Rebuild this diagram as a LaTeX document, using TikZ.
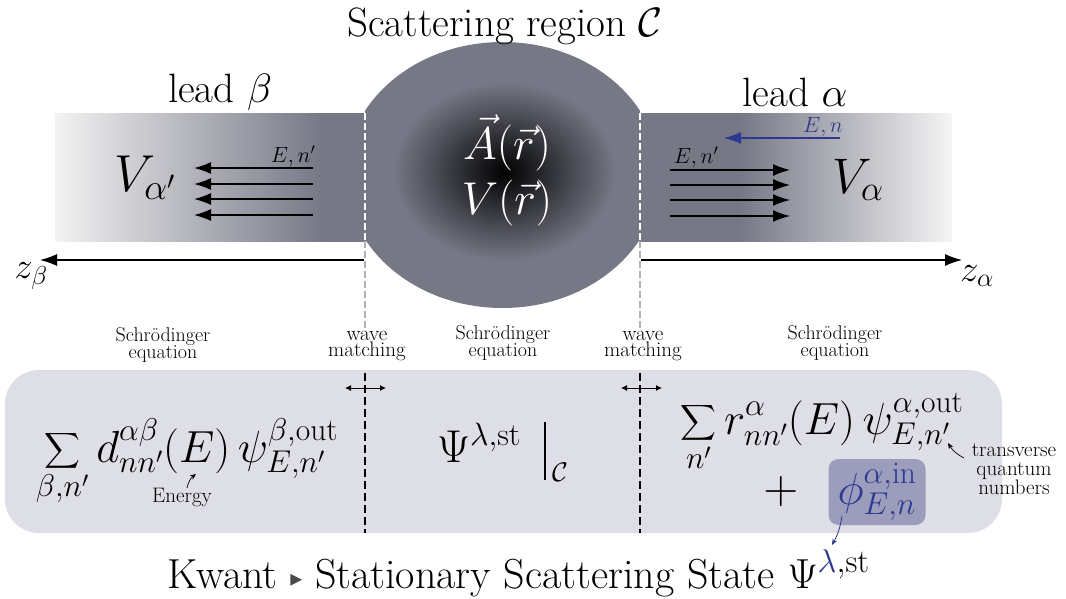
\RequirePackage{fix-cm}
\documentclass[tikz,border=0pt]{standalone}
\usepackage{amsmath}
\usepackage{fontspec}
\newfontfamily\djv{DejaVu Sans}
\usetikzlibrary{arrows.meta}
\definecolor{leadgray}{RGB}{118,120,134}
\definecolor{boxfill}{RGB}{222,222,230}
\definecolor{phifill}{RGB}{156,156,188}
\definecolor{navy}{RGB}{43,57,144}
\pgfdeclarehorizontalshading{leadL}{100bp}{color(0bp)=(black!5); color(25bp)=(black!5); color(68bp)=(leadgray); color(100bp)=(leadgray)}
\pgfdeclarehorizontalshading{leadR}{100bp}{color(0bp)=(leadgray); color(41bp)=(leadgray); color(75bp)=(black!4); color(100bp)=(black!4)}
\newcommand\setfs[1]{\fontsize{#1}{#1}\selectfont}
\begin{document}
\begin{tikzpicture}[x=1pt,y=-1pt,
  every node/.style={inner sep=0pt,outer sep=0pt},
  bigtip/.style={-{Latex[length=17pt,width=12pt]}, line width=1.4pt},
  smalltip/.style={-{Stealth[length=6pt,width=5pt]}, line width=0.7pt},
  dblarrow/.style={{Latex[length=6pt,width=6pt]}-{Latex[length=6pt,width=6pt]}, line width=0.9pt},
  smalllabel/.style={font=\setfs{20}, align=center},
  biglabel/.style={font=\setfs{41}},
  wdash/.style={line width=1.3pt, dash pattern=on 7pt off 3pt}]
\useasboundingbox (0,0) rectangle (1066,598);
% leads
\shade[shading=leadL] (55,113) rectangle (366,241);
\shade[shading=leadR] (639,113) rectangle (952,241);
% scattering region
\begin{scope}
\clip (365,0) rectangle (640,400);
\fill[leadgray] (502.5,175) ellipse [x radius=157, y radius=133];
\end{scope}
\foreach \k in {60,59,...,1}{
  \pgfmathsetmacro{\pp}{100*\k/60}
  \fill[leadgray!\pp!black] (505,172) ellipse [x radius={112*\k/60}, y radius={90*\k/60}];
}
% boundary lines
\draw[white, wdash] (365,113) -- (365,241);
\draw[white, wdash] (640,113) -- (640,241);
\draw[black!30, wdash] (365,241) -- (365,328);
\draw[black!30, wdash] (640,241) -- (640,328);
% labels top
\node[biglabel] (title) at (505,26) {Scattering region $\mathcal{C}$};
\node[biglabel] (leadb) at (220,92) {lead $\beta$};
\node[biglabel] (leada) at (795,92) {lead $\alpha$};
\node[font=\setfs{52}] (Vb) at (145,178) {$V_{\alpha'}$};
\node[font=\setfs{50}] (Va) at (858,180) {$V_{\alpha}$};
\node[font=\setfs{46}, text=white] (Ar) at (507,143) {$\vec{A}(\vec{r})$};
\node[font=\setfs{46}, text=white] (Vr) at (507,203) {$V(\vec{r})$};
% arrows in left lead
\foreach \i/\yy in {1/168,2/184,3/199,4/215}{
  \coordinate (ls\i) at (313,\yy);
  \coordinate (le\i) at (194,\yy);
  \draw[bigtip] (ls\i) -- (le\i);
}
\node[font=\setfs{22}] (lEn) at (293,156) {$E,n'$};
% arrows in right lead
\foreach \i/\yy in {1/170,2/185,3/200,4/216}{
  \coordinate (rs\i) at (670,\yy);
  \coordinate (re\i) at (790,\yy);
  \draw[bigtip] (rs\i) -- (re\i);
}
\node[font=\setfs{22}] (rEn) at (696,157) {$E,n'$};
\coordinate (bs) at (840,138);
\coordinate (be) at (724,138);
\draw[bigtip, navy, line width=1.2pt] (bs) -- (be);
\node[font=\setfs{22}, text=navy] (bEn) at (823,127) {$E,n$};
% axes
\coordinate (axl0) at (364,260);
\coordinate (axl1) at (40,260);
\coordinate (axr0) at (641,260);
\coordinate (axr1) at (962,260);
\draw[bigtip, line width=1.2pt] (axl0) -- (axl1);
\draw[bigtip, line width=1.2pt] (axr0) -- (axr1);
\node[font=\setfs{37}] (zb) at (31,276) {$z_\beta$};
\node[font=\setfs{37}] (za) at (977,276) {$z_\alpha$};
% small labels
\node[smalllabel] (s1) at (163,345) {Schr\"odinger\\[-3pt]equation};
\node[smalllabel] (s2) at (503,343) {Schr\"odinger\\[-3pt]equation};
\node[smalllabel] (s3) at (835,343) {Schr\"odinger\\[-3pt]equation};
\node[smalllabel, font=\setfs{21}] (w1) at (367,346) {wave\\[-5pt]matching};
\node[smalllabel, font=\setfs{21}] (w2) at (643,346) {wave\\[-5pt]matching};
% bottom box
\fill[boxfill, rounded corners=34pt] (5,370) rectangle (1002,533);
\draw[line width=1.5pt, dash pattern=on 8pt off 4pt] (365,373) -- (365,533);
\draw[line width=1.5pt, dash pattern=on 8pt off 4pt] (640,373) -- (640,533);
\coordinate (d1a) at (345,388); \coordinate (d1b) at (386,388);
\coordinate (d2a) at (621,388); \coordinate (d2b) at (662,388);
\draw[dblarrow] (d1a) -- (d1b);
\draw[dblarrow] (d2a) -- (d2b);
% formulas
\node[font=\setfs{45}] (lsum) at (187,462) {$\displaystyle\sum_{\beta,n'} d^{\alpha\beta}_{nn'}(E)\,\psi^{\beta,\mathrm{out}}_{E,n'}$};
\node[font=\setfs{21}] (energy) at (182,497) {Energy};
\coordinate (eTail) at (187,488);
\coordinate (eTip) at (196,474);
\draw[smalltip] (eTail) to[bend left=20] (eTip);
\node[font=\setfs{46}, anchor=base west] (psi) at (437,462) {$\Psi^{\lambda,\mathrm{st}}$};
\coordinate (barT) at (545,422);
\coordinate (barB) at (545,480);
\draw[line width=1.4pt] (barT) -- (barB);
\node[font=\setfs{27}, anchor=base west] (cC) at (552,481) {$\mathcal{C}$};
\node[font=\setfs{45}] (rsum) at (822,432) {$\displaystyle\sum_{n'} r^{\alpha}_{nn'}(E)\,\psi^{\alpha,\mathrm{out}}_{E,n'}$};
\node[font=\setfs{21}, align=center] (tqn) at (1014,469) {transverse\\[-2pt]quantum\\[-2pt]numbers};
\coordinate (tTail) at (964,458);
\coordinate (tTip) at (948,443);
\draw[smalltip] (tTail) to[bend left=15] (tTip);
\node[font=\setfs{48}] (plus) at (781,491) {$+$};
\node[fill=phifill, rounded corners=10pt, minimum width=97pt, minimum height=66pt] (phi) at (877,492) {};
\node[text=navy, font=\setfs{45}] (phitext) at (phi) {$\phi^{\alpha,\mathrm{in}}_{E,n}$};
% bottom line
\node[font=\setfs{42}, anchor=base west] (kw) at (167,588) {Kwant \raisebox{2pt}{\textcolor{black!70}{\djv\setfs{24}▸}} Stationary Scattering State $\Psi^{\hbox{\setfs{33}$\textcolor{navy}{\lambda}{,}\mathrm{st}$}}$};
\coordinate (phiTail) at (842,516);
\coordinate (lamTip) at (832,545);
\draw[smalltip, navy, line width=0.8pt] (phiTail) to[bend left=10] (lamTip);
\end{tikzpicture}
\end{document}
